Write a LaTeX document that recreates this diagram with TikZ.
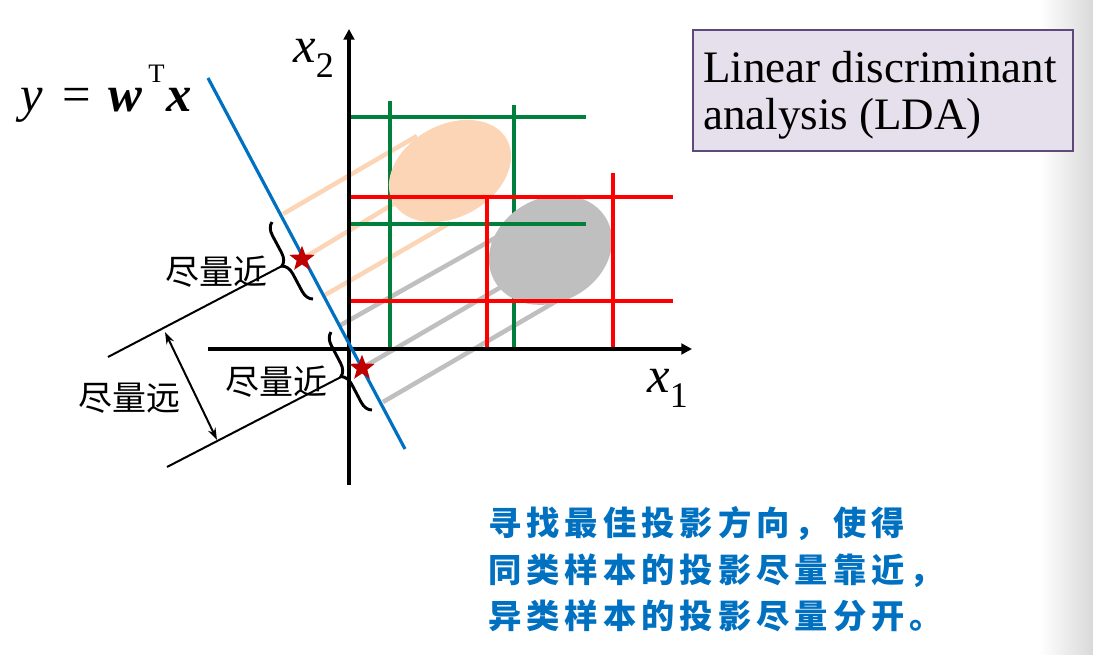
\documentclass[tikz,border=0pt]{standalone}
\usepackage{fontspec}
\setmainfont{Liberation Serif}
\newfontfamily\cjk{Noto Sans CJK SC}
\newfontfamily\cjkb[LetterSpace=15]{Noto Sans CJK SC}
\usetikzlibrary{arrows.meta,shapes.geometric,decorations.pathreplacing}
\definecolor{ggreen}{HTML}{00803C}
\definecolor{peach}{HTML}{FBD5B5}
\definecolor{lgray}{HTML}{BFBFBF}
\definecolor{lblue}{HTML}{0070C0}
\definecolor{starred}{HTML}{C00000}
\definecolor{boxfill}{HTML}{E5E0EC}
\definecolor{boxdraw}{HTML}{5F497A}
\begin{document}
\begin{tikzpicture}[x=0.75pt,y=-0.75pt,
  gridg/.style={ggreen,line width=3.4pt},
  gridr/.style={red,line width=3.4pt},
  projp/.style={peach,line width=3.4pt},
  projg/.style={lgray,line width=3.4pt},
  axisline/.style={line width=2.5pt,-{Triangle[length=8pt,width=8pt]}},
  guide/.style={line width=1.5pt},
  bracestyle/.style={decorate,decoration={brace,amplitude=9pt},line width=2.2pt},
  cjklab/.style={font=\cjk\fontsize{25.5pt}{30pt}\selectfont,inner sep=0pt},
  bottomtext/.style={font=\cjkb\bfseries\fontsize{25pt}{28pt}\selectfont,text=lblue,inner sep=0pt,anchor=west},
  titletext/.style={font=\fontsize{33.75pt}{36pt}\selectfont,inner sep=0pt,anchor=base west},
  staricon/.style={star,star points=5,star point ratio=2.4,fill=starred,draw=none,minimum size=20pt,inner sep=0pt}
]
\useasboundingbox (0,0) rectangle (1093,655);
\shade[left color=white,right color=black!15] (1040,0) rectangle (1093,655);

% key coordinates
\coordinate (b1) at (208,78);
\coordinate (b2) at (405,449);
\coordinate (s1) at (302,259);
\coordinate (s2) at (362,368);

% projection lines
\coordinate (p1a) at (283,214); \coordinate (p1b) at (417,136);
\coordinate (p3a) at (325,295); \coordinate (p3b) at (450,223);
\coordinate (p2b) at (405,197);
\draw[projp] (p1a) -- (p1b);
\draw[projp] (s1) -- (p2b);
\draw[projp] (p3a) -- (p3b);
\coordinate (q1a) at (339,326); \coordinate (q1b) at (497,237);
\coordinate (q2b) at (520,276);
\coordinate (q3a) at (383,402); \coordinate (q3b) at (560,299);
\draw[projg] (q1a) -- (q1b);
\draw[projg] (s2) -- (q2b);
\draw[projg] (q3a) -- (q3b);

% green verticals
\coordinate (gv1a) at (390,101); \coordinate (gv1b) at (390,349);
\coordinate (gv2a) at (514,105); \coordinate (gv2b) at (514,349);
\draw[gridg] (gv1a) -- (gv1b);
\draw[gridg] (gv2a) -- (gv2b);

% ellipses
\fill[peach,rotate around={29:(450,171)}] (450,171) ellipse [x radius=65,y radius=46];
\fill[lgray,rotate around={28:(550.5,250)}] (550.5,250) ellipse [x radius=64,y radius=52];

% green horizontals
\coordinate (gh1a) at (348,117); \coordinate (gh1b) at (586,117);
\coordinate (gh2a) at (348,224); \coordinate (gh2b) at (586,224);
\draw[gridg] (gh1a) -- (gh1b);
\draw[gridg] (gh2a) -- (gh2b);

% red lines
\coordinate (rh1a) at (348,197); \coordinate (rh1b) at (673,197);
\coordinate (rh2a) at (348,301); \coordinate (rh2b) at (673,301);
\coordinate (rv1a) at (487,199); \coordinate (rv1b) at (487,349);
\coordinate (rv2a) at (613,173); \coordinate (rv2b) at (613,349);
\draw[gridr] (rh1a) -- (rh1b);
\draw[gridr] (rh2a) -- (rh2b);
\draw[gridr] (rv1a) -- (rv1b);
\draw[gridr] (rv2a) -- (rv2b);

% axes
\coordinate (xa) at (208,349); \coordinate (xb) at (692,349);
\coordinate (ya) at (349,485); \coordinate (yb) at (349,29);
\draw[axisline] (xa) -- (xb);
\draw[axisline] (ya) -- (yb);

% projection direction line
\draw[lblue,line width=2.4pt] (b1) -- (b2);

% braces
\coordinate (br1a) at (313,299); \coordinate (br1b) at (272,222);
\coordinate (br2a) at (372,410); \coordinate (br2b) at (331,332);
\draw[bracestyle] (br1a) -- (br1b);
\draw[bracestyle] (br2a) -- (br2b);

% guide lines and distance arrow
\coordinate (bt1) at (282,266); \coordinate (g1) at (108,357);
\coordinate (bt2) at (341,377); \coordinate (g2) at (167,467);
\draw[guide] (bt1) -- (g1);
\draw[guide] (bt2) -- (g2);
\coordinate (da1) at (165,332); \coordinate (da2) at (217,440);
\draw[guide,{Stealth[length=9pt,width=6pt]}-{Stealth[length=9pt,width=6pt]}] (da1) -- (da2);

% stars
\node[staricon] (st1) at (s1) {};
\node[staricon] (st2) at (s2) {};

% labels
\node[cjklab] (near1) at (216,272) {尽量近};
\node[cjklab] (near2) at (276,382) {尽量近};
\node[cjklab] (far) at (129,398) {尽量远};

\node[inner sep=0pt,anchor=base west,font=\fontsize{38pt}{42pt}\selectfont] (eq) at (20,112)
  {\itshape y\/\kern15pt\upshape=\kern13pt\bfseries\itshape w\kern4.5pt\raisebox{21.75pt}{\mdseries\upshape\fontsize{20pt}{22pt}\selectfont T}\kern1.5pt x};

\node[inner sep=0pt,anchor=base west] (x2lab) at (293,63)
  {\fontsize{38pt}{42pt}\selectfont\itshape x\raisebox{-11.25pt}{\upshape\fontsize{27pt}{30pt}\selectfont 2}};
\node[inner sep=0pt,anchor=base west] (x1lab) at (647,393)
  {\fontsize{38pt}{42pt}\selectfont\itshape x\raisebox{-11.25pt}{\upshape\fontsize{27pt}{30pt}\selectfont 1}};

% title box
\node[draw=boxdraw,fill=boxfill,line width=1.5pt,minimum width=285pt,minimum height=90.75pt,anchor=north west,inner sep=0pt] (titlebox) at (692,29) {};
\node[titletext] (t1) at (703,83) {Linear discriminant};
\node[titletext] (t2) at (703,130) {analysis (LDA)};

% bottom text
\node[bottomtext] (c1) at (488,524) {寻找最佳投影方向，使得};
\node[bottomtext] (c2) at (488,571) {同类样本的投影尽量靠近，};
\node[bottomtext] (c3) at (488,616) {异类样本的投影尽量分开。};
\end{tikzpicture}
\end{document}
